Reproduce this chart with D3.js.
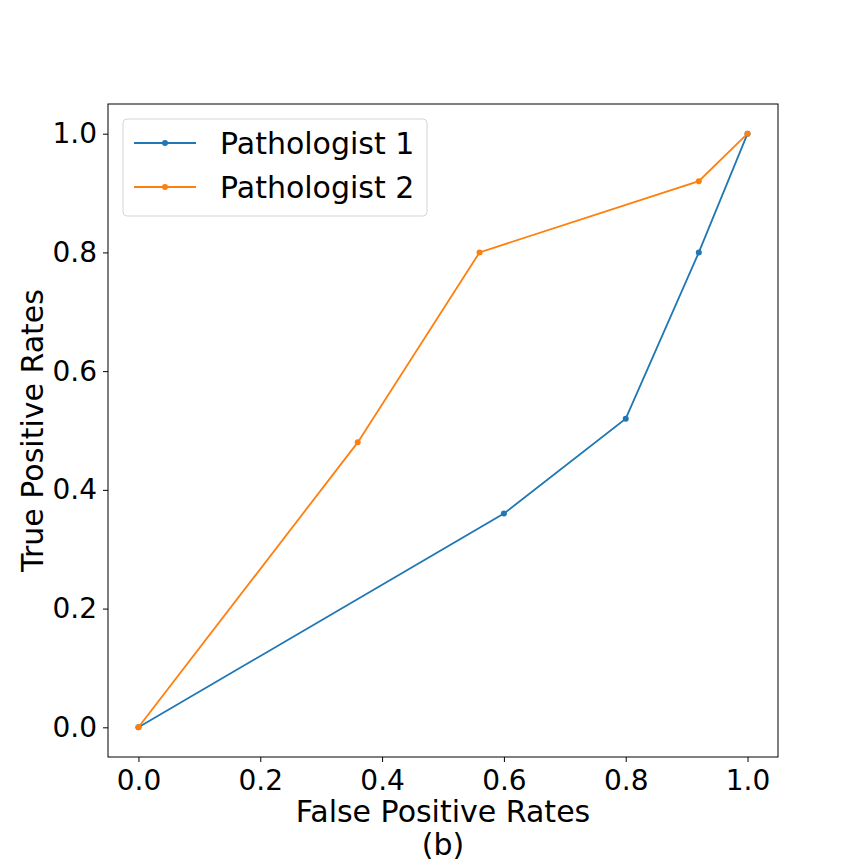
<!DOCTYPE html>
<html>
<head>
<meta charset="utf-8">
<script src="https://cdn.jsdelivr.net/npm/d3@7"></script>
<style>
  body { margin: 0; background: #fff; }
  text { font-family: "DejaVu Sans", sans-serif; }
</style>
</head>
<body>
<div id="chart"></div>
<script>
// data
var seriesNames = ["Pathologist 1", "Pathologist 2"];
var fpr1 = [0, 0.6, 0.8, 0.92, 1.0];
var tpr1 = [0, 0.36, 0.52, 0.8, 1.0];
var fpr2 = [0, 0.36, 0.56, 0.92, 1.0];
var tpr2 = [0, 0.48, 0.8, 0.92, 1.0];
var tickValues = [0, 0.2, 0.4, 0.6, 0.8, 1.0];
var colors = ["#1f77b4", "#ff7f0e"];

var svgWidth = 864;
var svgHeight = 864;

var margin = { top: 104, right: 86, bottom: 107, left: 108 };
var width = svgWidth - margin.left - margin.right;
var height = svgHeight - margin.top - margin.bottom;

var svg = d3.select("#chart")
    .append("svg")
    .attr("width", svgWidth)
    .attr("height", svgHeight);

var chartGroup = svg.append("g")
    .attr("transform", `translate(${margin.left}, ${margin.top})`);

var xScale = d3.scaleLinear().domain([-0.05, 1.05]).range([0, width]);
var yScale = d3.scaleLinear().domain([-0.05, 1.05]).range([height, 0]);

var fmt = d3.format(".1f");

var bottomAxis = d3.axisBottom(xScale).tickValues(tickValues).tickFormat(fmt).tickSize(5).tickPadding(8);
var leftAxis = d3.axisLeft(yScale).tickValues(tickValues).tickFormat(fmt).tickSize(5).tickPadding(6);

var xAxis = chartGroup.append("g")
    .attr("transform", `translate(0, ${height})`)
    .call(bottomAxis);

var yAxis = chartGroup.append("g")
    .call(leftAxis);

[xAxis, yAxis].forEach(function (ax) {
    ax.select(".domain").remove();
    ax.selectAll("line").attr("stroke", "#000").attr("stroke-width", 1);
    ax.selectAll("text")
        .attr("fill", "#000")
        .style("font-family", "DejaVu Sans")
        .style("font-size", "28px");
});

// frame
chartGroup.append("rect")
    .attr("width", width)
    .attr("height", height)
    .attr("fill", "none")
    .attr("stroke", "#000")
    .attr("stroke-width", 1);

var series = [
    fpr1.map((x, i) => ({ x: x, y: tpr1[i] })),
    fpr2.map((x, i) => ({ x: x, y: tpr2[i] }))
];

var line = d3.line()
    .x(d => xScale(d.x))
    .y(d => yScale(d.y));

series.forEach(function (s, k) {
    chartGroup.append("path")
        .datum(s)
        .attr("d", line)
        .attr("fill", "none")
        .attr("stroke", colors[k])
        .attr("stroke-width", 1.8);

    chartGroup.selectAll(".dot" + k)
        .data(s)
        .enter()
        .append("circle")
        .attr("cx", d => xScale(d.x))
        .attr("cy", d => yScale(d.y))
        .attr("r", 3)
        .attr("fill", colors[k]);
});

// legend
var legend = chartGroup.append("g")
    .attr("transform", "translate(15, 15)");

legend.append("rect")
    .attr("width", 304)
    .attr("height", 97)
    .attr("rx", 4)
    .attr("fill", "#fff")
    .attr("fill-opacity", 0.8)
    .attr("stroke", "#d5d5d5")
    .attr("stroke-width", 1);

seriesNames.forEach(function (name, k) {
    var yy = 24 + k * 44;
    legend.append("line")
        .attr("x1", 11).attr("x2", 73)
        .attr("y1", yy).attr("y2", yy)
        .attr("stroke", colors[k])
        .attr("stroke-width", 1.8);
    legend.append("circle")
        .attr("cx", 42).attr("cy", yy)
        .attr("r", 3)
        .attr("fill", colors[k]);
    legend.append("text")
        .attr("x", 97)
        .attr("y", yy)
        .attr("dy", "0.37em")
        .style("font-size", "30px")
        .text(name);
});

// axis labels
chartGroup.append("text")
    .attr("x", width / 2)
    .attr("y", height + 65)
    .attr("text-anchor", "middle")
    .style("font-size", "30px")
    .text("False Positive Rates");

chartGroup.append("text")
    .attr("x", width / 2)
    .attr("y", height + 98)
    .attr("text-anchor", "middle")
    .style("font-size", "30px")
    .text("(b)");

chartGroup.append("text")
    .attr("transform", "rotate(-90)")
    .attr("x", 0 - height / 2)
    .attr("y", 0 - margin.left + 43)
    .attr("text-anchor", "middle")
    .style("font-size", "30px")
    .text("True Positive Rates");
</script>
</body>
</html>
